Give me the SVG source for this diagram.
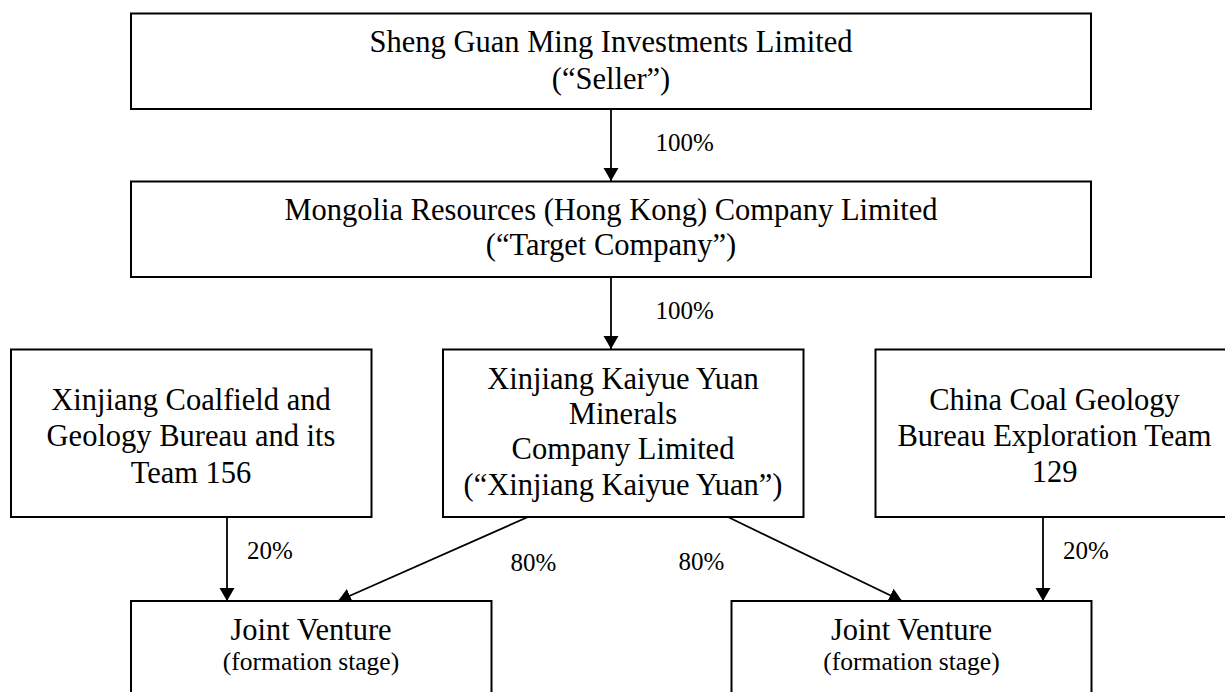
<svg xmlns="http://www.w3.org/2000/svg" width="1225" height="692" viewBox="0 0 1225 692">
<style>
.box{fill:#fff;stroke:#000;stroke-width:2}
.t{font-family:"Liberation Serif","Times New Roman",serif;font-size:30.5px;fill:#000;text-anchor:middle}
.s{font-family:"Liberation Serif","Times New Roman",serif;font-size:25.5px;fill:#000;text-anchor:middle}
.lbl{font-family:"Liberation Serif","Times New Roman",serif;font-size:25px;fill:#000}
.c{stroke:#000;stroke-width:1.8;fill:none;marker-end:url(#ah)}
</style>
<defs>
<marker id="ah" markerUnits="userSpaceOnUse" markerWidth="14" markerHeight="16" refX="13" refY="7.5" orient="auto">
<path d="M0,0 L13,7.5 L0,15 z" fill="#000"/>
</marker>
</defs>
<rect width="1225" height="692" fill="#fff"/>
<g id="connectors">
<line class="c" x1="611" y1="109" x2="611" y2="181"/>
<line class="c" x1="611" y1="277" x2="611" y2="349"/>
<line class="c" x1="227" y1="517" x2="227" y2="601"/>
<line class="c" x1="1043" y1="517" x2="1043" y2="601"/>
<line class="c" x1="528" y1="517" x2="338" y2="601"/>
<line class="c" x1="728" y1="517" x2="902" y2="601"/>
</g>
<g id="labels">
<text class="lbl" x="655.5" y="151">100%</text>
<text class="lbl" x="655.5" y="319">100%</text>
<text class="lbl" x="247" y="559">20%</text>
<text class="lbl" x="510.5" y="571">80%</text>
<text class="lbl" x="678.5" y="570">80%</text>
<text class="lbl" x="1063" y="559">20%</text>
</g>
<g id="seller">
<rect class="box" x="131" y="13.5" width="960" height="95.5"/>
<text class="t" x="611" y="52">Sheng Guan Ming Investments Limited</text>
<text class="t" x="611" y="88.5">(“Seller”)</text>
</g>
<g id="target">
<rect class="box" x="131" y="181.5" width="960" height="95.5"/>
<text class="t" x="611" y="220">Mongolia Resources (Hong Kong) Company Limited</text>
<text class="t" x="611" y="255">(“Target Company”)</text>
</g>
<g id="xcgb">
<rect class="box" x="11" y="349.5" width="360.5" height="167.5"/>
<text class="t" x="191" y="410">Xinjiang Coalfield and</text>
<text class="t" x="191" y="446">Geology Bureau and its</text>
<text class="t" x="191" y="482.5">Team 156</text>
</g>
<g id="kaiyue">
<rect class="box" x="443" y="349.5" width="360.5" height="167.5"/>
<text class="t" x="623" y="388.5">Xinjiang Kaiyue Yuan</text>
<text class="t" x="623" y="423.5">Minerals</text>
<text class="t" x="623" y="459">Company Limited</text>
<text class="t" x="623" y="494.5">(“Xinjiang Kaiyue Yuan”)</text>
</g>
<g id="ccgb">
<rect class="box" x="875.5" y="349.5" width="358.5" height="167.5"/>
<text class="t" x="1054.5" y="410">China Coal Geology</text>
<text class="t" x="1054.5" y="446">Bureau Exploration Team</text>
<text class="t" x="1054.5" y="482">129</text>
</g>
<g id="jv1">
<rect class="box" x="131" y="601" width="360.5" height="120"/>
<text class="t" x="311" y="640">Joint Venture</text>
<text class="s" x="311" y="670">(formation stage)</text>
</g>
<g id="jv2">
<rect class="box" x="731.5" y="601" width="360" height="120"/>
<text class="t" x="911.5" y="640">Joint Venture</text>
<text class="s" x="911.5" y="670">(formation stage)</text>
</g>
</svg>
